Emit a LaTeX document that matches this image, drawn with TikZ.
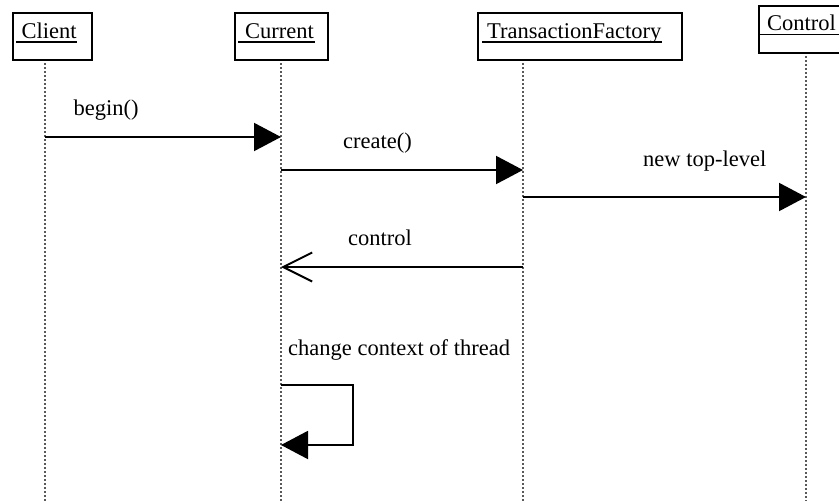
\documentclass[tikz,border=0pt]{standalone}
\usepackage{fontspec}
\setmainfont{Liberation Serif}
\usetikzlibrary{arrows.meta,calc}
\tikzset{
  objbox/.style={draw=black, line width=2.4pt, fill=white, anchor=north west, inner sep=0pt},
  lbl/.style={inner sep=0pt, anchor=base west, font=\fontsize{22.5}{27}\selectfont},
  uline/.style={line width=1.3pt},
  lifeline/.style={draw=black!65, line width=1.1pt, dash pattern=on 2pt off 2pt},
  msg/.style={line width=2pt, -{Triangle[length=27pt,width=28pt]}},
  reply/.style={line width=2pt, -{Straight Barb[length=29pt,width=29pt,line width=2pt]}},
}
\begin{document}
\begin{tikzpicture}[x=1pt,y=-1pt]
\useasboundingbox (0,0) rectangle (839,501);
% lifeline coordinates
\coordinate (clTop) at (45,59);   \coordinate (clBot) at (45,501);
\coordinate (cuTop) at (281,59);  \coordinate (cuBot) at (281,501);
\coordinate (tfTop) at (523,59);  \coordinate (tfBot) at (523,501);
\coordinate (coTop) at (806,52);  \coordinate (coBot) at (806,501);
\draw[lifeline] (clTop) -- (clBot);
\draw[lifeline] (cuTop) -- (cuBot);
\draw[lifeline] (tfTop) -- (tfBot);
\draw[lifeline] (coTop) -- (coBot);
% object boxes
\node[objbox, minimum width=79pt, minimum height=47pt] (clientbox) at (12,12) {};
\node[objbox, minimum width=93pt, minimum height=47pt] (currentbox) at (234,12) {};
\node[objbox, minimum width=204pt, minimum height=47pt] (tfbox) at (477,12) {};
\node[objbox, minimum width=100pt, minimum height=47pt] (controlbox) at (758,5) {};
\node[lbl] (clientlbl) at (21.5,38.3) {Client};
\node[lbl] (currentlbl) at (245,38.3) {Current};
\node[lbl] (tflbl) at (487,38.3) {TransactionFactory};
\node[lbl] (controllbl) at (767,30.5) {Control};
\draw[uline] ($(clientlbl.base west)+(-5.5,3.6)$) -- ($(clientlbl.base east)+(0.5,3.6)$);
\draw[uline] ($(currentlbl.base west)+(-7,3.6)$) -- ($(currentlbl.base east)+(0.5,3.6)$);
\draw[uline] ($(tflbl.base west)+(-5,3.6)$) -- ($(tflbl.base east)+(0.5,3.6)$);
\draw[uline] ($(controllbl.base west)+(-7,4)$) -- ($(controllbl.base east)+(4,4)$);
% message endpoints
\coordinate (m1a) at (45,137);  \coordinate (m1b) at (281,137);
\coordinate (m2a) at (281,170); \coordinate (m2b) at (523,170);
\coordinate (m3a) at (523,197); \coordinate (m3b) at (806,197);
\coordinate (m4a) at (523,267); \coordinate (m4b) at (281,267);
\coordinate (m5a) at (281,385); \coordinate (m5r1) at (353,385);
\coordinate (m5r2) at (353,445); \coordinate (m5b) at (281,445);
\draw[msg] (m1a) -- (m1b);
\draw[msg] (m2a) -- (m2b);
\draw[msg] (m3a) -- (m3b);
\draw[reply] (m4a) -- (m4b);
\draw[msg] (m5a) -- (m5r1) -- (m5r2) -- (m5b);
% message labels
\node[lbl] (l1) at (73.5,115) {begin()};
\node[lbl] (l2) at (343,148) {create()};
\node[lbl] (l3) at (643,166) {new top-level};
\node[lbl] (l4) at (348,245) {control};
\node[lbl] (l5) at (288,355) {change context of thread};
\end{tikzpicture}
\end{document}
